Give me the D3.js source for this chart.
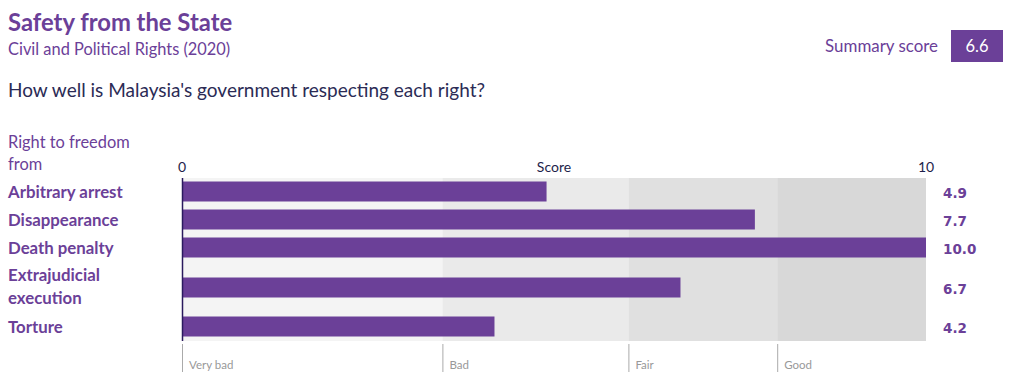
<!DOCTYPE html>
<html>
<head>
<meta charset="utf-8">
<script src="https://cdn.jsdelivr.net/npm/d3@7"></script>
<style>
body{margin:0;background:#fff;}
svg text{font-family:"Source Sans Pro",Lato,"Open Sans",sans-serif;}
</style>
</head>
<body>
<svg id="chart" width="1018" height="391"></svg>
<script>
var rights = [["Arbitrary arrest"],["Disappearance"],["Death penalty"],["Extrajudicial","execution"],["Torture"]]
var scores = [4.9, 7.7, 10.0, 6.7, 4.2]
var band_names = ["Very bad","Bad","Fair","Good"]
var band_edges = [0, 3.5, 6, 8, 10]
var band_fills = ["#f4f4f4","#eaeaea","#e0e0e0","#d8d8d8"]
var summary = 6.6

var purple = "#6b4098"
var svg = d3.select("#chart")
var x = d3.scaleLinear().domain([0,10]).range([182,926])
// rows: two-line label gets a taller slot
var row_tops = [181.5, 209.5, 237.5, 277.5, 316.5]

svg.append("text").attr("x",8).attr("y",31).text("Safety from the State")
    .attr("font-size",23.8).attr("font-weight","bold").attr("fill",purple)
svg.append("text").attr("x",8).attr("y",55).text("Civil and Political Rights (2020)")
    .attr("font-size",16.4).attr("fill",purple)
svg.append("text").attr("x",8).attr("y",97).text("How well is Malaysia's government respecting each right?")
    .attr("font-size",19).attr("fill","#2b2b55")

svg.append("text").attr("x",938).attr("y",52).attr("text-anchor","end").text("Summary score")
    .attr("font-size",16.9).attr("fill",purple)
svg.append("rect").attr("x",951).attr("y",30).attr("width",52).attr("height",32).attr("fill",purple)
svg.append("text").attr("x",977).attr("y",52).attr("text-anchor","middle").text(summary.toFixed(1))
    .attr("font-size",16.5).attr("fill","#fff")

svg.append("text").attr("x",8).attr("y",148).text("Right to freedom").attr("font-size",16.4).attr("fill",purple)
svg.append("text").attr("x",8).attr("y",170).text("from").attr("font-size",16.4).attr("fill",purple)

svg.append("text").attr("x",x(0)).attr("y",172).attr("text-anchor","middle").text("0").attr("font-size",14).attr("fill","#1e1e4a")
svg.append("text").attr("x",x(5)).attr("y",172).attr("text-anchor","middle").text("Score").attr("font-size",14).attr("fill","#1e1e4a")
svg.append("text").attr("x",x(10)).attr("y",172).attr("text-anchor","middle").text("10").attr("font-size",14).attr("fill","#1e1e4a")

// background bands
band_names.forEach(function(name,i){
    svg.append("rect").attr("x",x(band_edges[i])).attr("y",178)
        .attr("width",x(band_edges[i+1])-x(band_edges[i])).attr("height",163)
        .attr("fill",band_fills[i])
    svg.append("line").attr("x1",x(band_edges[i])+0.5).attr("x2",x(band_edges[i])+0.5)
        .attr("y1",344).attr("y2",372).attr("stroke","#aaa").attr("stroke-width",1)
    svg.append("text").attr("x",x(band_edges[i])+7).attr("y",369).text(name)
        .attr("font-size",11.5).attr("fill","#999")
})

svg.selectAll("rect.bar").data(scores).enter().append("rect").attr("class","bar")
    .attr("x",x(0)).attr("y",function(d,i){return row_tops[i]})
    .attr("width",function(d){return x(d)-x(0)}).attr("height",20).attr("fill",purple)

svg.append("line").attr("x1",x(0)+0.5).attr("x2",x(0)+0.5).attr("y1",178).attr("y2",341)
    .attr("stroke","#2a1a5e").attr("stroke-width",1.5)

rights.forEach(function(lines,i){
    var t = svg.append("text").attr("font-size",16.8).attr("font-weight","bold").attr("fill",purple)
    if(lines.length==1){
        t.append("tspan").attr("x",8).attr("y",row_tops[i]+16).text(lines[0])
    } else {
        t.append("tspan").attr("x",8).attr("y",row_tops[i]+3.5).text(lines[0])
        t.append("tspan").attr("x",8).attr("y",row_tops[i]+26.5).text(lines[1])
    }
    svg.append("text").attr("x",943).attr("y",row_tops[i]+16).text(scores[i].toFixed(1))
        .attr("font-size",13.5).attr("font-weight","bold").attr("fill",purple)
        .style("font-family","Tahoma,'DejaVu Sans',sans-serif")
})
</script>
</body>
</html>
